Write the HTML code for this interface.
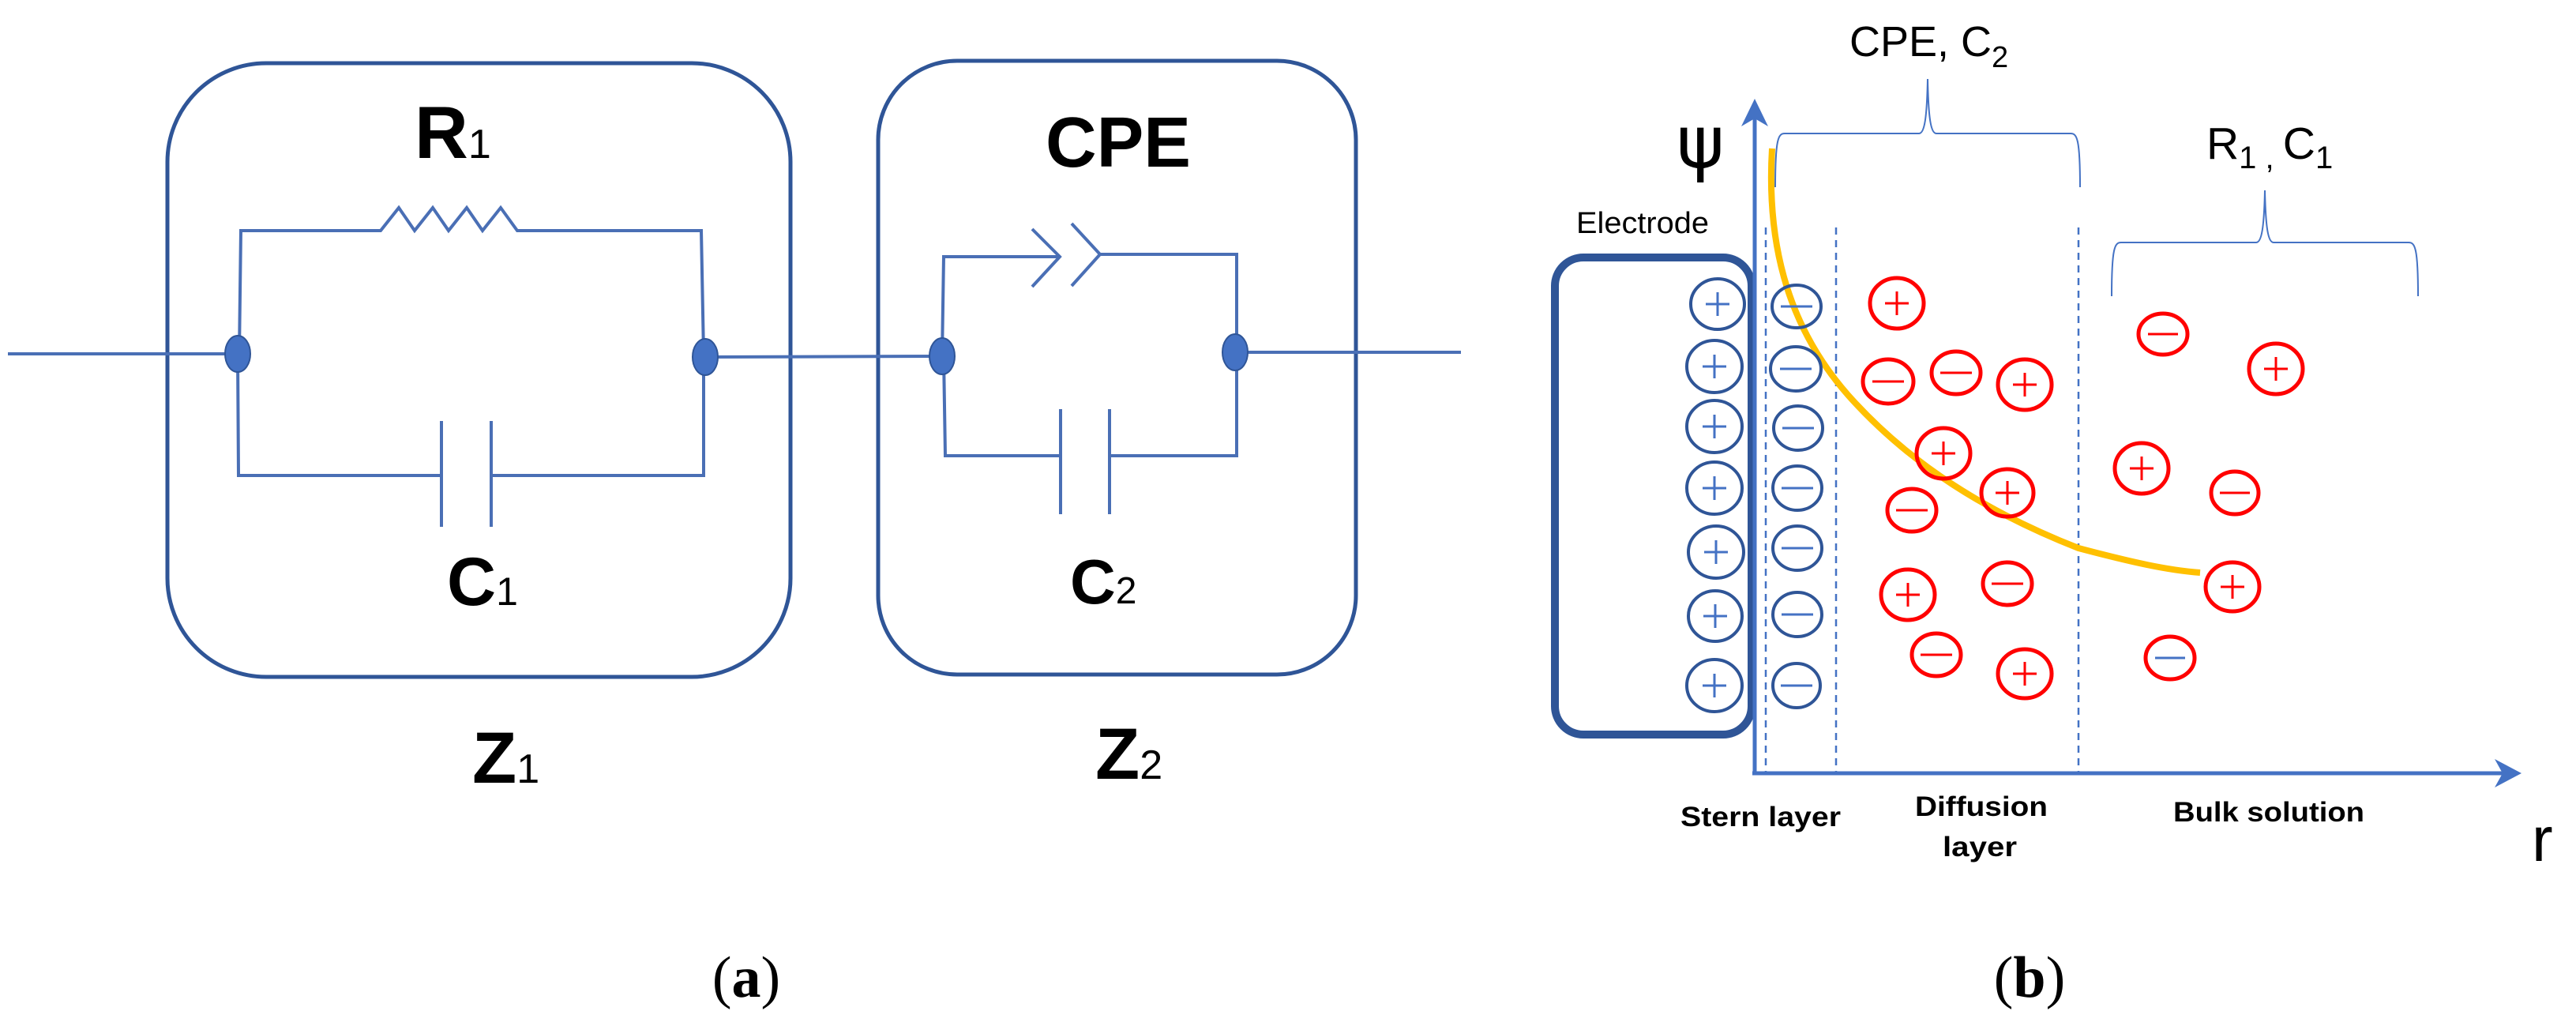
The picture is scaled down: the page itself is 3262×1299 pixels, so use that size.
<!DOCTYPE html>
<html><head><meta charset="utf-8"><style>html,body{margin:0;padding:0;background:#fff}svg{display:block}</style></head>
<body>
<svg width="3262" height="1299" viewBox="0 0 3262 1299" xmlns="http://www.w3.org/2000/svg">
<g fill="none" stroke="#2F5597" stroke-width="5">
<rect x="212" y="80" width="789" height="777" rx="125"/>
<rect x="1112" y="77" width="605" height="777" rx="100"/>
</g>
<g fill="none" stroke="#4A6FB5" stroke-width="4">
<line x1="10" y1="448" x2="301" y2="448"/>
<polyline points="303,448 305,292 482,292 505,263 525,292 548,263 568,292 591,263 611,292 634,263 655,292 888,292 891,448"/>
<polyline points="301,448 302,602 559,602"/>
<line x1="559" y1="533" x2="559" y2="667"/>
<line x1="622" y1="533" x2="622" y2="667"/>
<polyline points="622,602 891,602 891,452"/>
<line x1="893" y1="452" x2="1193" y2="451"/>
<polyline points="1193,451 1195,325 1342,325"/>
<polyline points="1307,290 1342,325 1307,363"/>
<polyline points="1357,283 1393,322 1357,362"/>
<polyline points="1393,322 1566,322 1566,446"/>
<polyline points="1195,451 1197,577 1343,577"/>
<line x1="1343" y1="518" x2="1343" y2="651"/>
<line x1="1405" y1="518" x2="1405" y2="651"/>
<polyline points="1405,577 1566,577 1566,446"/>
<line x1="1564" y1="446" x2="1850" y2="446"/>
</g>
<g fill="#4472C4" stroke="#2F5597" stroke-width="2">
<ellipse cx="301" cy="448" rx="16" ry="23"/>
<ellipse cx="893" cy="452" rx="16" ry="23"/>
<ellipse cx="1193" cy="451" rx="16" ry="23"/>
<ellipse cx="1564" cy="446" rx="16" ry="23"/>
</g>
<g font-family="Liberation Sans, Arial, sans-serif" font-weight="bold" fill="#000">
<text x="525" y="200" font-size="94">R<tspan font-size="52" font-weight="normal">1</tspan></text>
<text x="1324" y="211" font-size="90" textLength="184" lengthAdjust="spacingAndGlyphs">CPE</text>
<text x="566" y="766" font-size="86">C<tspan font-size="50" font-weight="normal">1</tspan></text>
<text x="1355" y="764" font-size="80">C<tspan font-size="48" font-weight="normal">2</tspan></text>
<text x="598" y="991" font-size="92">Z<tspan font-size="52" font-weight="normal">1</tspan></text>
<text x="1387" y="986" font-size="92">Z<tspan font-size="52" font-weight="normal">2</tspan></text>
</g>
<g font-family="Liberation Serif, serif" font-size="74" fill="#000" text-anchor="middle">
<text x="945" y="1262">(<tspan font-weight="bold">a</tspan>)</text>
<text x="2570" y="1262">(<tspan font-weight="bold">b</tspan>)</text>
</g>

<!-- (b) -->
<g stroke="#4472C4" stroke-width="2.5" stroke-dasharray="9,7" fill="none">
<line x1="2236" y1="288" x2="2236" y2="979"/>
<line x1="2325" y1="288" x2="2325" y2="979"/>
<line x1="2632" y1="288" x2="2632" y2="979"/>
</g>
<g stroke="#4472C4" stroke-width="2" fill="none">
<path d="M2248,237 C2248,175 2252,169 2260,169 L2430,169 C2437,169 2440,150 2441,100 C2442,150 2445,169 2452,169 L2622,169 C2630,169 2634,175 2634,237"/>
<path d="M2674,375 C2674,313 2678,307 2686,307 L2857,307 C2864,307 2867,288 2868,241 C2869,288 2872,307 2879,307 L3050,307 C3058,307 3062,313 3062,375"/>
</g>
<rect x="1969" y="326" width="249" height="604" rx="36" fill="none" stroke="#2F5597" stroke-width="10"/>
<g stroke="#4472C4" stroke-width="5" fill="#4472C4">
<line x1="2222" y1="979" x2="2222" y2="140"/>
<line x1="2219" y1="979" x2="3175" y2="979"/>
</g>
<polygon points="2222,125 2205,160 2222,150 2239,160" fill="#4472C4"/>
<polygon points="3193,979 3159,961 3169,979 3159,997" fill="#4472C4"/>
<path d="M2244,188 C2236,320 2270,420 2340,500 C2420,590 2520,650 2632,694 C2700,712 2745,722 2786,725" fill="none" stroke="#FFC000" stroke-width="8"/>

<g fill="none" stroke="#2F5597" stroke-width="4">
<ellipse cx="2175" cy="385" rx="34" ry="32"/><ellipse cx="2171" cy="464" rx="35" ry="33"/><ellipse cx="2171" cy="540" rx="35" ry="33"/><ellipse cx="2171" cy="618" rx="35" ry="33"/><ellipse cx="2173" cy="699" rx="35" ry="33"/><ellipse cx="2172" cy="780" rx="34" ry="32"/><ellipse cx="2171" cy="868" rx="35" ry="33"/>
<ellipse cx="2275" cy="388" rx="31" ry="27"/><ellipse cx="2274" cy="467" rx="32" ry="28"/><ellipse cx="2277" cy="542" rx="31" ry="28"/><ellipse cx="2276" cy="618" rx="31" ry="28"/><ellipse cx="2276" cy="694" rx="31" ry="28"/><ellipse cx="2276" cy="778" rx="31" ry="28"/><ellipse cx="2275" cy="868" rx="30" ry="28"/>
</g>
<g stroke="#4472C4" stroke-width="3">
<path d="M2160,385h30M2175,370v30 M2156,464h30M2171,449v30 M2156,540h30M2171,525v30 M2156,618h30M2171,603v30 M2158,699h30M2173,684v30 M2157,780h30M2172,765v30 M2156,868h30M2171,853v30"/>
<path d="M2255,388h40 M2254,467h40 M2257,542h40 M2256,618h40 M2256,694h40 M2256,778h40 M2255,868h40"/>
</g>
<g fill="none" stroke="#FF0000" stroke-width="5">
<ellipse cx="2402" cy="384" rx="34" ry="32"/><ellipse cx="2391" cy="483" rx="32" ry="28"/><ellipse cx="2477" cy="472" rx="31" ry="27"/><ellipse cx="2564" cy="487" rx="34" ry="32"/><ellipse cx="2461" cy="574" rx="34" ry="32"/><ellipse cx="2542" cy="624" rx="33" ry="30"/><ellipse cx="2421" cy="646" rx="31" ry="27"/><ellipse cx="2416" cy="753" rx="34" ry="32"/><ellipse cx="2542" cy="739" rx="31" ry="27"/><ellipse cx="2452" cy="829" rx="31" ry="27"/><ellipse cx="2564" cy="853" rx="34" ry="31"/>
<ellipse cx="2739" cy="423" rx="31" ry="26"/><ellipse cx="2882" cy="467" rx="34" ry="32"/><ellipse cx="2712" cy="593" rx="34" ry="32"/><ellipse cx="2830" cy="624" rx="30" ry="27"/><ellipse cx="2827" cy="743" rx="34" ry="31"/><ellipse cx="2748" cy="833" rx="31" ry="27"/>
</g>
<g stroke="#FF0000" stroke-width="3">
<path d="M2387,384h30M2402,369v30 M2549,487h30M2564,472v30 M2446,574h30M2461,559v30 M2527,624h30M2542,609v30 M2401,753h30M2416,738v30 M2549,853h30M2564,838v30 M2867,467h30M2882,452v30 M2697,593h30M2712,578v30 M2812,743h30M2827,728v30"/>
<path d="M2371,483h40 M2457,472h40 M2401,646h40 M2522,739h40 M2432,829h40 M2720,423h38 M2811,624h38"/>
</g>
<line x1="2729" y1="833" x2="2767" y2="833" stroke="#4472C4" stroke-width="3"/>

<g font-family="Liberation Sans, Arial, sans-serif" fill="#000">
<text x="2123" y="212" font-family="DejaVu Sans, sans-serif" font-size="92">ψ</text>
<text x="2342" y="71" font-size="54">CPE, C<tspan font-size="38" dy="14">2</tspan></text>
<text x="2794" y="201" font-size="57">R<tspan font-size="40" dy="12">1</tspan><tspan font-size="40"> , </tspan><tspan dy="-12">C</tspan><tspan font-size="40" dy="12">1</tspan></text>
<text x="1996" y="295" font-size="38" textLength="168" lengthAdjust="spacingAndGlyphs">Electrode</text>
<g font-weight="bold" font-size="35">
<text x="2128" y="1046" textLength="203" lengthAdjust="spacingAndGlyphs">Stern layer</text>
<text x="2425" y="1033" textLength="168" lengthAdjust="spacingAndGlyphs">Diffusion</text>
<text x="2460" y="1084" textLength="94" lengthAdjust="spacingAndGlyphs">layer</text>
<text x="2752" y="1040" textLength="242" lengthAdjust="spacingAndGlyphs">Bulk solution</text>
</g>
<text x="3206" y="1090" font-size="80">r</text>
</g>
</svg>
</body></html>
